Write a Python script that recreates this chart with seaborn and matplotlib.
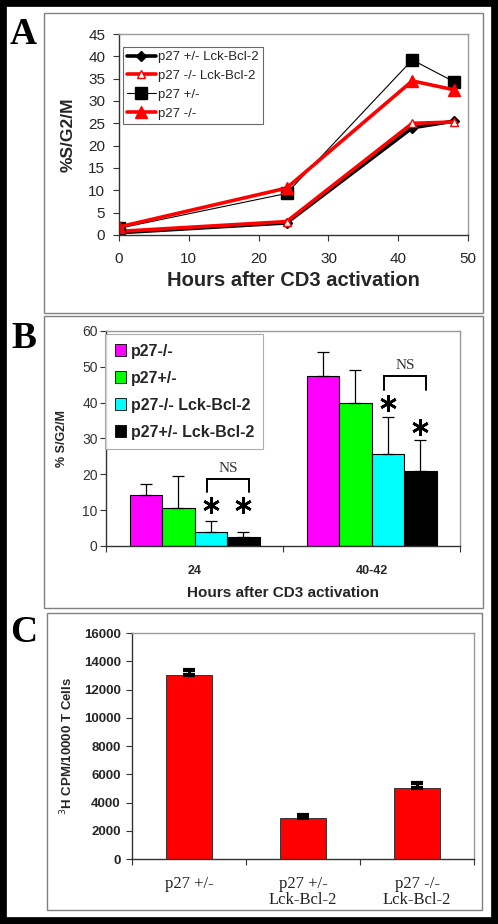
import matplotlib
matplotlib.use('Agg')
import matplotlib.pyplot as plt
import numpy as np
import pandas as pd
import seaborn as sns
from matplotlib.patches import Rectangle, Patch
from matplotlib.lines import Line2D

# Panel A data: % S/G2/M over time
hours = [0, 24, 42, 48]
a_names = ['p27 +/- Lck-Bcl-2', 'p27 -/- Lck-Bcl-2', 'p27 +/-', 'p27 -/-']
a_het_bcl2 = [0.5, 2.7, 24.0, 25.5]
a_ko_bcl2 = [0.8, 3.0, 25.0, 25.3]
a_het = [1.5, 9.3, 39.2, 34.3]
a_ko = [1.8, 10.5, 34.5, 32.5]

# Panel B data: grouped bars with upper error
b_times = ['24', '40-42']
b_groups = ['p27-/-', 'p27+/-', 'p27-/- Lck-Bcl-2', 'p27+/- Lck-Bcl-2']
b_colors = ['#ff00ff', '#00ff00', '#00ffff', '#000000']
b_means = {
    'p27-/-': [14.2, 47.5],
    'p27+/-': [10.5, 40.0],
    'p27-/- Lck-Bcl-2': [4.0, 25.7],
    'p27+/- Lck-Bcl-2': [2.6, 20.9],
}
b_errs = {
    'p27-/-': [3.1, 6.5],
    'p27+/-': [9.0, 9.1],
    'p27-/- Lck-Bcl-2': [3.1, 10.4],
    'p27+/- Lck-Bcl-2': [1.4, 8.8],
}
# asterisk heights and NS brackets (top, leg end) per time point
star_y = {'p27-/- Lck-Bcl-2': [11.4, 40.0], 'p27+/- Lck-Bcl-2': [11.4, 33.3]}
ns_brackets = [(18.7, 15.2), (47.4, 43.6)]

# Panel C data: thymidine incorporation
c_labels = ['p27 +/-', 'p27 +/-\nLck-Bcl-2', 'p27 -/-\nLck-Bcl-2']
c_values = [13000, 2900, 5000]
c_errs = [400, 250, 350]

sns.set_theme(style='white')
plt.rcParams['font.family'] = ['Liberation Sans', 'DejaVu Sans']
SERIF = ['Liberation Serif', 'DejaVu Serif']
AXC = '#333333'
FRAMEC = '#999999'

fig = plt.figure(figsize=(4.98, 9.24), dpi=100, facecolor='white')

# outer black frame and panel boxes
fig.add_artist(Rectangle((0.005, 0.0027), 0.99, 0.9946, transform=fig.transFigure,
                         fill=False, edgecolor='black', linewidth=7))
for box in [(0.0884, 0.6613, 0.8815, 0.3247),
            (0.0884, 0.3420, 0.8815, 0.3160),
            (0.0944, 0.0152, 0.8735, 0.3214)]:
    fig.add_artist(Rectangle(box[:2], box[2], box[3], transform=fig.transFigure,
                             fill=False, edgecolor='#808080', linewidth=1.0))

for letter, y in [('A', 1 - 34 / 924), ('B', 1 - 338 / 924), ('C', 1 - 633 / 924)]:
    fig.text(23.5 / 498, y, letter, family=SERIF, fontweight='bold', fontsize=27,
             ha='center', va='center', color='black')


def style_frame(ax):
    for side in ['left', 'bottom']:
        ax.spines[side].set_color(AXC)
        ax.spines[side].set_linewidth(1.0)
    for side in ['top', 'right']:
        ax.spines[side].set_color(FRAMEC)
        ax.spines[side].set_linewidth(1.0)


# ---------------- Panel A ----------------
axA = fig.add_axes([0.239, 0.7457, 0.701, 0.2175])
dfA = pd.DataFrame({'hours': hours * 4,
                    'value': a_het_bcl2 + a_ko_bcl2 + a_het + a_ko,
                    'series': np.repeat(a_names, len(hours))})
a_styles = {
    'p27 +/- Lck-Bcl-2': dict(color='black', lw=2.6, marker='D', ms=5, mfc='black', mec='black'),
    'p27 -/- Lck-Bcl-2': dict(color='red', lw=2.6, marker='^', ms=6, mfc='white', mec='red'),
    'p27 +/-': dict(color='black', lw=0.8, marker='s', ms=8, mfc='black', mec='black'),
    'p27 -/-': dict(color='red', lw=2.6, marker='^', ms=8, mfc='red', mec='red'),
}
handlesA = []
for name in a_names:
    st = a_styles[name]
    sns.lineplot(data=dfA[dfA['series'] == name], x='hours', y='value', ax=axA,
                 color=st['color'], linewidth=st['lw'], marker=st['marker'],
                 markersize=st['ms'], markerfacecolor=st['mfc'],
                 markeredgecolor=st['mec'], markeredgewidth=1.0)
    handlesA.append(Line2D([], [], color=st['color'], lw=st['lw'], marker=st['marker'],
                           ms=st['ms'], mfc=st['mfc'], mec=st['mec']))
axA.set_xlim(0, 50)
axA.set_ylim(0, 45)
axA.set_xticks(range(0, 51, 10))
axA.set_yticks(range(0, 46, 5))
axA.tick_params(axis='both', labelsize=11, direction='out', length=4, width=0.8,
                color=AXC, left=True, bottom=True)
axA.tick_params(axis='y', pad=6)
axA.tick_params(axis='x', pad=8)
axA.set_xlabel('Hours after CD3 activation', fontsize=14.5, fontweight='bold', labelpad=4)
axA.set_ylabel('%S/G2/M', fontsize=12.5, fontweight='bold', labelpad=9)
style_frame(axA)
legA = axA.legend(handlesA, a_names, loc='upper left', bbox_to_anchor=(0.011, 0.935),
                  borderaxespad=0, fontsize=9.5, frameon=True, fancybox=False,
                  handlelength=2.2, handletextpad=0.2, labelspacing=0.5,
                  borderpad=0.3)
legA.get_frame().set_edgecolor('#444444')
legA.get_frame().set_linewidth(0.8)

# ---------------- Panel B ----------------
axB = fig.add_axes([0.2129, 0.4091, 0.711, 0.2327])
dfB = pd.DataFrame([(t, g, b_means[g][i]) for g in b_groups for i, t in enumerate(b_times)],
                   columns=['time', 'group', 'value'])
sns.barplot(data=dfB, x='time', y='value', hue='group', hue_order=b_groups,
            palette=b_colors, ax=axB, width=0.734, edgecolor='black', linewidth=0.8,
            errorbar=None, legend=False, saturation=1)
centers = {}
for g, cont in zip(b_groups, axB.containers):
    xs = [bar.get_x() + bar.get_width() / 2 for bar in cont]
    centers[g] = xs
    axB.errorbar(xs, b_means[g], yerr=[[0, 0], b_errs[g]], fmt='none',
                 ecolor='black', elinewidth=0.9, capsize=4, capthick=0.9)
axB.set_xlim(-0.5, 1.5)
axB.set_ylim(0, 60)
axB.set_yticks(range(0, 61, 10))
axB.set_xticks([-0.5, 0.5, 1.5], minor=True)
axB.tick_params(axis='y', labelsize=10, direction='out', length=4, width=0.8,
                color=AXC, left=True, pad=2, labelcolor='#333333')
axB.tick_params(axis='x', which='major', length=0, labelsize=9, pad=14)
axB.tick_params(axis='x', which='minor', direction='out', length=4, width=0.8,
                color=AXC, bottom=True)
for lab in axB.get_xticklabels():
    lab.set_fontweight('bold')
axB.set_xlabel('Hours after CD3 activation', fontsize=11, fontweight='bold', labelpad=6)
axB.set_ylabel('% S/G2/M', fontsize=9, fontweight='bold', labelpad=10)
style_frame(axB)

# significance marks: six-armed asterisks and NS brackets
for g, ys in star_y.items():
    axB.plot(centers[g], ys, linestyle='none', marker=(6, 2, 0), markersize=12,
             markeredgewidth=1.9, color='black')
for i, (top, leg) in enumerate(ns_brackets):
    x0 = centers['p27-/- Lck-Bcl-2'][i] - 0.02
    x1 = centers['p27+/- Lck-Bcl-2'][i] + 0.03
    axB.plot([x0, x0, x1, x1], [leg, top, top, leg], color='black', lw=1.4,
             solid_joinstyle='miter')
    axB.text((x0 + x1) / 2, top + 1.2, 'NS', family=SERIF, fontsize=11,
             ha='center', va='bottom', color='#333333')

handlesB = [Patch(facecolor=c, edgecolor='black', linewidth=0.6) for c in b_colors]
legB = axB.legend(handlesB, b_groups, loc='upper left', bbox_to_anchor=(-0.003, 0.986),
                  borderaxespad=0, prop={'weight': 'bold', 'size': 11.5}, frameon=True,
                  fancybox=False, handlelength=0.7, handleheight=0.7,
                  handletextpad=0.3, labelspacing=0.75, borderpad=0.6)
legB.get_frame().set_edgecolor('#999999')
legB.get_frame().set_linewidth(0.8)

# ---------------- Panel C ----------------
axC = fig.add_axes([0.265, 0.0703, 0.687, 0.2446])
dfC = pd.DataFrame({'genotype': c_labels, 'cpm': c_values})
sns.barplot(data=dfC, x='genotype', y='cpm', ax=axC, color='#ff0000', width=0.4,
            edgecolor='#222222', linewidth=0.6, errorbar=None, saturation=1)
xsC = [bar.get_x() + bar.get_width() / 2 for bar in axC.containers[0]]
axC.errorbar(xsC, c_values, yerr=[[0] * 3, c_errs], fmt='none', ecolor='black',
             elinewidth=2.2, capsize=4, capthick=3)
axC.set_xlim(-0.5, 2.5)
axC.set_ylim(0, 16000)
axC.set_yticks(range(0, 16001, 2000))
axC.set_xticks([-0.5, 0.5, 1.5, 2.5], minor=True)
axC.tick_params(axis='y', labelsize=9.5, direction='out', length=4, width=0.8,
                color=AXC, left=True, pad=4)
for lab in axC.get_yticklabels():
    lab.set_fontweight('bold')
axC.tick_params(axis='x', which='major', length=0, pad=12)
axC.tick_params(axis='x', which='minor', direction='out', length=4, width=0.8,
                color=AXC, bottom=True)
for lab in axC.get_xticklabels():
    lab.set_family(SERIF)
    lab.set_fontsize(12)
    lab.set_linespacing(1.0)
    lab.set_color('#222222')
axC.set_xlabel('')
axC.set_ylabel(r'$^{3}$H CPM/10000 T Cells', fontsize=9.5, fontweight='bold', labelpad=6)
style_frame(axC)

fig.savefig('out.png', dpi=100, facecolor='white')
